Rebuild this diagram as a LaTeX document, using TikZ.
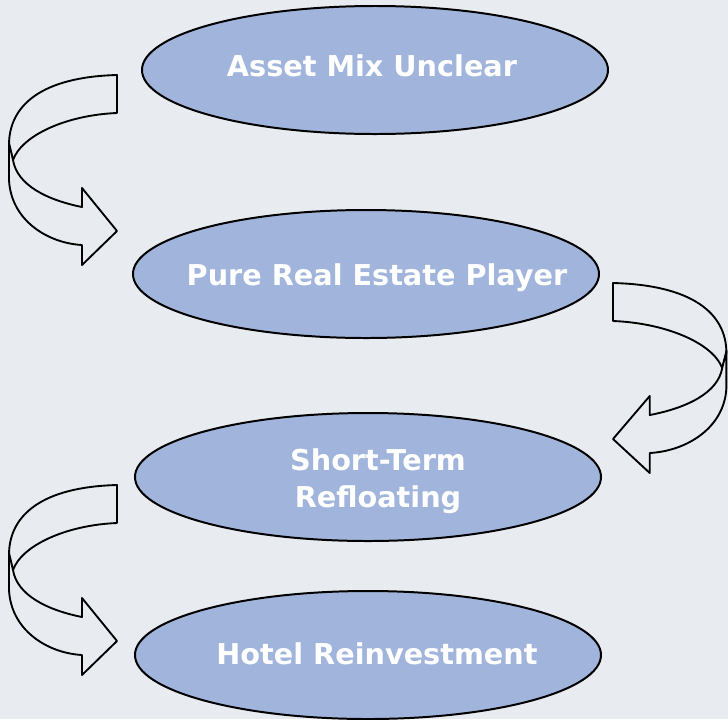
\documentclass[tikz,border=0pt]{standalone}
\usepackage{fontspec}
\setmainfont{DejaVu Sans}
\usetikzlibrary{shapes.geometric}

\definecolor{pagebg}{HTML}{E8ECF0}
\definecolor{stagefill}{HTML}{A1B5DC}

\tikzset{
	% twisted u-turn block arrow, origin at the top corner of its tail
	uturn/.pic={
		% back half of the ribbon
		\filldraw[band] (0,0) .. controls (-75,2) and (-108,30) .. (-108,70)
			-- (-104,85) .. controls (-95,60) and (-50,40) .. (0,38) -- cycle;
		% front half with the head
		\filldraw[band] (-108,68) -- (-108,105) .. controls (-106,145) and (-70,168) .. (-35,170)
			-- (-35,190) -- (0,156) -- (-35,113) -- (-35,132)
			.. controls (-70,125) and (-100,110) .. (-104,85) -- cycle;
	}
}

\begin{document}
\begin{tikzpicture}[
			x=0.03cm, y=-0.03cm,
			stage/.style={ellipse, draw=black, line width=1.7pt, fill=stagefill,
				minimum width=13.98cm, minimum height=3.84cm, inner sep=0pt},
			caption/.style={inner sep=0pt, text=white, align=center,
				font=\bfseries\fontsize{24.5}{31.6}\selectfont},
			band/.style={draw=black, line width=1.6pt, fill=pagebg, line join=round}
			]
			\fill[pagebg] (0,0) rectangle (728,719);
			\useasboundingbox (0,0) rectangle (728,719);
			
			\pic at (117,75) {uturn};
			\pic[xscale=-1.05] at (613,283) {uturn};
			\pic at (117,485) {uturn};
			
			\node[stage] (mix) at (375,70) {};
			\node[stage] (player) at (366,274) {};
			\node[stage] (refloat) at (368,477) {};
			\node[stage] (hotel) at (368,655) {};
			
			% texts sit a little off the ellipse centres
			\node[caption, anchor=base] (mixtext) at (372,76) {Asset Mix Unclear};
			\node[caption, anchor=base] (playertext) at (377,285) {Pure Real Estate Player};
			\node[caption] (refloattext) at (378,481) {Short-Term\\Refloating};
			\node[caption, anchor=base] (hoteltext) at (377,664) {Hotel Reinvestment};
		\end{tikzpicture}
\end{document}
